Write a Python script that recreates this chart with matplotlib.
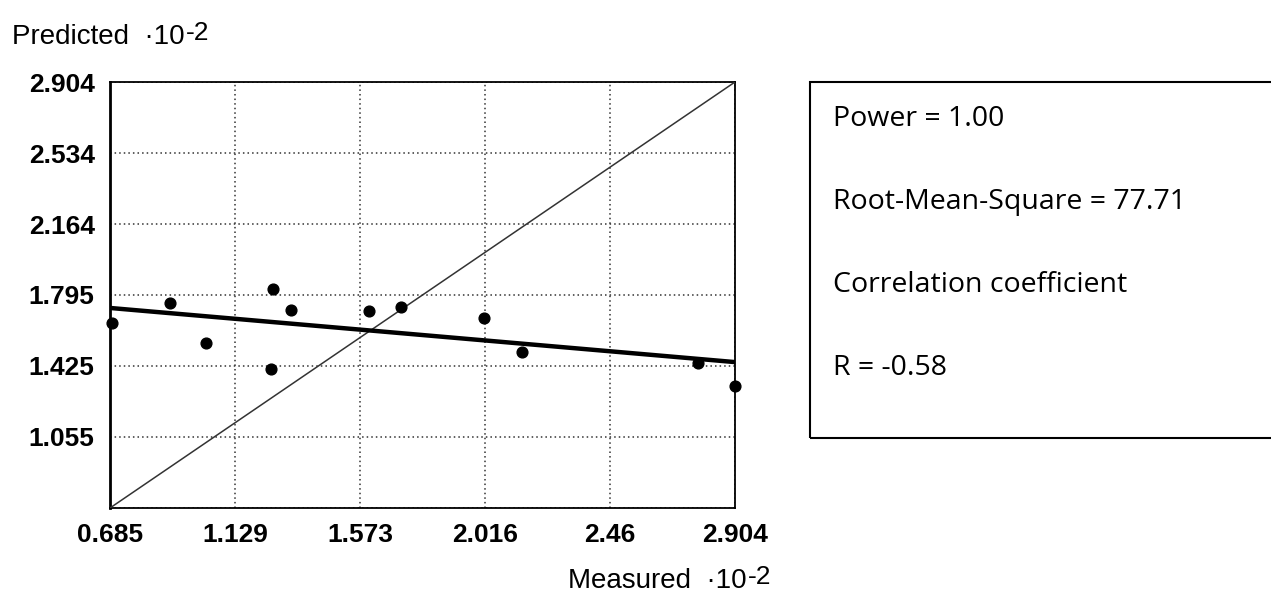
import numpy as np
import matplotlib
matplotlib.use("Agg")
import matplotlib.pyplot as plt
from matplotlib.patches import Rectangle

# Datos (unidades ·10^-2)
measured = [0.691, 0.898, 1.026, 1.263, 1.256, 1.328, 1.604, 1.717, 2.014, 2.149, 2.774, 2.904]
predicted = [1.647, 1.754, 1.543, 1.826, 1.407, 1.716, 1.713, 1.730, 1.676, 1.499, 1.442, 1.322]

# Recta de regresión (extremos)
fit_x = [0.685, 2.904]
fit_y = [1.727, 1.445]

x_ticks = [0.685, 1.129, 1.573, 2.016, 2.46, 2.904]
y_ticks = [0.685, 1.055, 1.425, 1.795, 2.164, 2.534, 2.904]
y_labels = ["", "1.055", "1.425", "1.795", "2.164", "2.534", "2.904"]

stats = ["Power = 1.00", "Root-Mean-Square = 77.71", "Correlation coefficient", "R = -0.58"]

plt.rcParams['font.family'] = ['Liberation Sans', 'DejaVu Sans']

W, H = 1271, 595
fig = plt.figure(figsize=(W / 100, H / 100), dpi=100)
ax = fig.add_axes([110 / W, 1 - 508 / H, 625 / W, 426 / H])

lo, hi = x_ticks[0], x_ticks[-1]
ax.set_xlim(lo, hi)
ax.set_ylim(y_ticks[0], y_ticks[-1])
ax.set_xticks(x_ticks)
ax.set_xticklabels([str(t) for t in x_ticks])
ax.set_yticks(y_ticks)
ax.set_yticklabels(y_labels)
ax.tick_params(length=0, labelsize=19, pad=11)
for lab in ax.get_xticklabels() + ax.get_yticklabels():
    lab.set_fontweight('bold')
ax.grid(True, linestyle=(0, (1, 2)), color='#333333', linewidth=1.1)

# Diagonal de referencia
ax.plot([lo, hi], [lo, hi], color='#333333', lw=1.1, zorder=3)
# Regresión
ax.plot(fit_x, fit_y, color='black', lw=3.2, zorder=4)
# Puntos
ax.scatter(measured, predicted, s=60, color='black', zorder=5, clip_on=False)

for s in ax.spines.values():
    s.set_color('black')
    s.set_linewidth(1.3)
ax.spines['left'].set_linewidth(2)

# Etiquetas de ejes con exponente
def label_with_exp(x, y, base, exp):
    main = fig.text(x, y, base, fontsize=20, ha='left', va='baseline')
    ax.annotate(exp, xy=(1, 0), xycoords=main, xytext=(1, 7),
                textcoords='offset points', fontsize=19, ha='left', va='baseline')

label_with_exp(12 / W, 1 - 44 / H, 'Predicted  \u00b710', '-2')
label_with_exp(568 / W, 1 - 588 / H, 'Measured  \u00b710', '-2')

# Caja de estadísticas
box = Rectangle((810 / W, 1 - 438 / H), (W + 10 - 810) / W, (438 - 82) / H,
                transform=fig.transFigure, fill=False, edgecolor='black', lw=1.5, clip_on=False)
fig.add_artist(box)
for i, s in enumerate(stats):
    fig.text(833 / W, 1 - (119 + i * 83) / H, s, fontsize=20.5, family='Open Sans',
             ha='left', va='center')

fig.savefig("out.png", dpi=100)
